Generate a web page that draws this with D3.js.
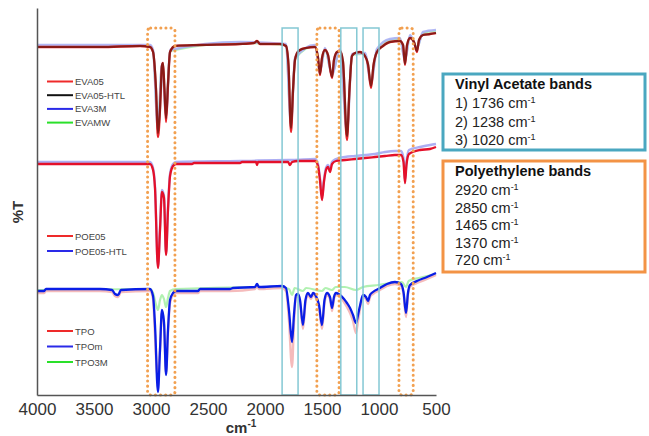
<!DOCTYPE html>
<html><head><meta charset="utf-8">
<script src="https://cdn.jsdelivr.net/npm/d3@7"></script>
<style>body{margin:0;background:#fff}svg{display:block}</style>
</head><body>
<script>
// ---------- DATA ----------
const xTickValues = [4000, 3500, 3000, 2500, 2000, 1500, 1000, 500];

// spectra: [wavenumber cm-1, offset %T]
const eva05 = [[4000,348],[3447,348],[3096,349],[3009,348],[2982,343],[2956,305],[2939,258],[2921,285],[2904,329],[2895,332],[2882,305],[2868,273],[2851,310],[2833,343],[2789,349],[2570,350],[2219,351],[2096,352],[2070,354],[2044,351],[1868,351],[1816,349],[1794,330],[1772,263],[1754,305],[1737,335],[1719,342],[1693,345],[1640,347],[1561,348],[1535,337],[1518,320],[1500,337],[1474,345],[1447,340],[1412,317],[1395,335],[1368,343],[1342,344],[1316,333],[1281,255],[1259,305],[1237,339],[1210,342],[1167,343],[1123,339],[1096,330],[1070,307],[1048,330],[1018,343],[965,349],[904,353],[816,354],[789,350],[772,330],[754,350],[728,357],[693,353],[667,343],[649,355],[614,360],[553,361],[500,362]];
const eva05htl = [[4000,348],[3447,348],[3096,349],[3009,348],[2982,343],[2956,307],[2939,262],[2921,287],[2904,329],[2895,332],[2882,307],[2868,277],[2851,311],[2833,343],[2789,349],[2570,350],[2219,351],[2096,352],[2070,354],[2044,351],[1868,351],[1816,349],[1794,331],[1772,267],[1754,306],[1737,335],[1719,342],[1693,345],[1640,347],[1561,348],[1535,338],[1518,321],[1500,337],[1474,345],[1447,340],[1412,318],[1395,335],[1368,343],[1342,344],[1316,334],[1281,259],[1259,306],[1237,339],[1210,342],[1167,343],[1123,339],[1096,331],[1070,309],[1048,330],[1018,343],[965,349],[904,353],[816,354],[789,350],[772,331],[754,350],[728,357],[693,353],[667,344],[649,355],[614,360],[553,361],[500,362]];
const eva3m = [[4000,350],[3009,350],[2982,345],[2939,265],[2904,331],[2868,280],[2833,345],[2219,353],[1816,351],[1772,270],[1737,337],[1561,350],[1518,323],[1474,347],[1412,320],[1342,346],[1281,262],[1237,341],[1123,342],[1070,312],[1018,346],[904,356],[816,357],[772,334],[728,360],[667,347],[614,363],[500,365]];
const evamw = [[4000,349],[3009,349],[2982,344],[2939,268],[2904,330],[2868,283],[2833,344],[2219,352],[1816,350],[1772,272],[1737,336],[1561,349],[1518,324],[1474,346],[1412,321],[1342,345],[1281,265],[1237,340],[1123,341],[1070,314],[1018,345],[904,355],[816,356],[772,336],[728,359],[667,348],[614,362],[500,364]];

const poe05 = [[4000,231],[3009,231],[2982,225],[2965,207],[2939,127],[2921,165],[2904,203],[2886,197],[2868,140],[2851,185],[2833,219],[2807,229],[2781,231],[2640,231],[2623,232],[2219,232],[2202,233],[2079,233],[2070,230],[2061,233],[1798,233],[1781,230],[1763,233],[1711,234],[1561,234],[1535,229],[1518,215],[1500,195],[1483,213],[1465,225],[1447,228],[1430,223],[1412,231],[1377,234],[1298,235],[1210,236],[1123,237],[1035,238],[947,239],[860,240],[807,240],[785,233],[772,212],[759,230],[737,241],[640,245],[553,246],[500,248]];
const poe05htl = [[4000,233],[3009,233],[2982,227],[2965,209],[2939,129],[2921,167],[2904,205],[2886,199],[2868,142],[2851,187],[2833,221],[2807,231],[2781,233],[2219,234],[1798,235],[1763,235],[1561,236],[1535,231],[1518,217],[1500,198],[1483,215],[1465,227],[1447,230],[1430,226],[1412,233],[1377,236],[1298,238],[1210,239],[1123,240],[1035,241],[947,243],[860,244],[807,244],[785,237],[772,215],[759,233],[737,245],[640,248],[553,250],[500,251]];

const tpo = [[4000,102],[3939,102],[3921,104],[3447,104],[3342,103],[3316,99],[3289,98],[3263,103],[3009,104],[2982,96],[2965,60],[2945,20],[2921,45],[2904,82],[2886,70],[2868,22],[2851,62],[2833,92],[2807,100],[2781,102],[2588,102],[2570,104],[2307,104],[2088,106],[2070,109],[2053,106],[1851,107],[1816,104],[1790,75],[1763,28],[1746,72],[1728,98],[1711,99],[1693,93],[1667,66],[1645,92],[1623,100],[1596,96],[1579,100],[1553,97],[1526,87],[1500,66],[1478,92],[1456,100],[1430,96],[1412,84],[1395,96],[1377,100],[1342,98],[1307,93],[1281,88],[1254,82],[1228,74],[1202,62],[1184,74],[1167,86],[1140,98],[1114,96],[1096,91],[1079,98],[1053,101],[991,105],[930,109],[860,111],[807,109],[785,101],[763,78],[746,100],[728,108],[667,112],[579,116],[500,120]];
const tpom = [[4000,104],[3939,104],[3921,106],[3447,106],[3342,105],[3316,101],[3289,100],[3263,105],[3009,106],[2982,99],[2965,70],[2939,3],[2921,45],[2904,85],[2886,73],[2868,20],[2851,65],[2833,95],[2807,102],[2781,104],[2588,104],[2570,106],[2307,106],[2281,107],[2088,108],[2070,111],[2053,108],[1851,109],[1816,107],[1790,85],[1763,53],[1746,80],[1728,100],[1711,101],[1693,95],[1667,70],[1645,95],[1623,102],[1596,98],[1579,102],[1553,99],[1526,90],[1500,70],[1478,95],[1456,102],[1430,98],[1412,87],[1395,98],[1377,102],[1342,100],[1307,96],[1281,92],[1254,87],[1228,80],[1202,72],[1184,80],[1167,89],[1140,100],[1114,98],[1096,94],[1079,100],[1053,103],[991,107],[930,111],[860,113],[807,111],[785,103],[763,82],[746,102],[728,110],[667,114],[579,118],[500,122]];
const tpo3m = [[4000,105],[3009,106],[2982,102],[2960,92],[2939,85],[2921,95],[2904,100],[2886,96],[2868,88],[2851,97],[2833,104],[2781,106],[1868,108],[1790,106],[1763,100],[1740,107],[1667,104],[1640,107],[1500,104],[1470,107],[1412,105],[1380,108],[1300,108],[1202,105],[1140,108],[1000,110],[900,112],[800,113],[763,108],[740,114],[650,117],[500,121]];

// band boxes [from, to] cm-1
const peBoxes = [[3030, 2790], [1545, 1350], [825, 700]];
const vaBoxes = [[1850, 1710], [1335, 1195], [1140, 1000]];

// legend groups
const evaLegend = [["EVA05", "#ee2a2a"], ["EVA05-HTL", "#111111"], ["EVA3M", "#2a2ae8"], ["EVAMW", "#2ae02a"]];
const poeLegend = [["POE05", "#ee2a2a"], ["POE05-HTL", "#2a2ae8"]];
const tpoLegend = [["TPO", "#ee2a2a"], ["TPOm", "#2a2ae8"], ["TPO3M", "#2ae02a"]];

const vaLines = ["1) 1736 cm", "2) 1238 cm", "3) 1020 cm"];
const peLines = ["2920 cm", "2850 cm", "1465 cm", "1370 cm", "720 cm"];

// ---------- DRAW ----------
const W = 649, H = 436;
const FONT = "Arial, 'Liberation Sans', sans-serif";
const svg = d3.select("body").append("svg").attr("width", W).attr("height", H);
const x = d3.scaleLinear().domain([4000, 500]).range([37, 436]);
const y = d3.scaleLinear().domain([0, 387]).range([395, 8]);
const line = d3.line().x(d => x(d[0])).y(d => y(d[1])).curve(d3.curveMonotoneX);

// spectra
function spec(data, color, w, op) {
  svg.append("path").datum(data).attr("d", line).attr("fill", "none")
    .attr("stroke", color).attr("stroke-width", w).attr("stroke-opacity", op)
    .attr("stroke-linejoin", "round");
}
spec(evamw, "#9ff09f", 2.2, 0.8);
spec(eva3m, "#aab0f4", 2.4, 0.9);
spec(eva05, "#e8242a", 2.3, 1);
spec(eva05htl, "#3a1408", 2.2, 0.55);

spec(poe05htl, "#a9aaf2", 2.4, 0.95);
spec(poe05, "#e4102a", 2.3, 1);

spec(tpo3m, "#a8f0a8", 2.2, 0.9);
spec(tpo, "#f4b4b4", 2.4, 0.9);
spec(tpom, "#0a1ee6", 2.3, 1);

// boxes
const boxTop = y(367), boxBottom = y(0);
svg.selectAll(".pe").data(peBoxes).join("rect")
  .attr("x", d => x(d[0])).attr("width", d => x(d[1]) - x(d[0]))
  .attr("y", boxTop).attr("height", boxBottom - boxTop).attr("rx", 3)
  .attr("fill", "none").attr("stroke", "#f2a050").attr("stroke-width", 3)
  .attr("stroke-dasharray", "0.1 5").attr("stroke-linecap", "round");
svg.selectAll(".va").data(vaBoxes).join("rect")
  .attr("x", d => x(d[0])).attr("width", d => x(d[1]) - x(d[0]))
  .attr("y", boxTop).attr("height", boxBottom - boxTop)
  .attr("fill", "none").attr("stroke", "#84c8d4").attr("stroke-width", 1.5);

// axes
const xAxis = svg.append("g").attr("transform", `translate(0,${y(0)})`)
  .call(d3.axisBottom(x).tickValues(xTickValues).tickSize(0).tickSizeOuter(0).tickPadding(8).tickFormat(d3.format("d")));
xAxis.select(".domain").attr("stroke", "#555").attr("stroke-width", 1.5);
xAxis.selectAll("text").attr("font-family", FONT).attr("font-size", 17).attr("fill", "#333");
const yAxis = svg.append("g").attr("transform", `translate(${x(4000)},0)`)
  .call(d3.axisLeft(y).tickValues([]).tickSizeOuter(0));
yAxis.select(".domain").attr("stroke", "#555").attr("stroke-width", 1.5);

svg.append("text").attr("transform", "translate(23,212) rotate(-90)").attr("text-anchor", "middle")
  .attr("font-family", FONT).attr("font-weight", "bold")
  .attr("font-size", 15).attr("fill", "#333").text("%T");
const cm = svg.append("text").attr("x", 241).attr("y", 433).attr("text-anchor", "middle")
  .attr("font-family", FONT).attr("font-weight", "bold")
  .attr("font-size", 15).attr("fill", "#333");
cm.append("tspan").text("cm");
cm.append("tspan").attr("dy", -6).attr("font-size", 10).text("-1");

// legends
function legend(items, y0, step) {
  items.forEach((it, i) => {
    const yy = y0 + i * step;
    svg.append("line").attr("x1", 47).attr("x2", 73).attr("y1", yy).attr("y2", yy)
      .attr("stroke", it[1]).attr("stroke-width", 2);
    svg.append("text").attr("x", 75).attr("y", yy + 3.5)
      .attr("font-family", FONT).attr("font-size", 9.5)
      .attr("fill", "#444").text(it[0]);
  });
}
legend(evaLegend, 81.5, 13.7);
legend(poeLegend, 236, 15);
legend(tpoLegend, 331, 15.5);

// annotation boxes
svg.append("rect").attr("x", 443).attr("y", 74).attr("width", 202).attr("height", 76)
  .attr("fill", "#fff").attr("stroke", "#4aa7c0").attr("stroke-width", 3);
svg.append("text").attr("x", 455).attr("y", 89).attr("font-family", FONT)
  .attr("font-weight", "bold").attr("font-size", 14.5).attr("fill", "#111").text("Vinyl Acetate bands");
vaLines.forEach((t, i) => {
  const tx = svg.append("text").attr("x", 455).attr("y", 108 + i * 18.5)
    .attr("font-family", FONT).attr("font-size", 14.5).attr("fill", "#222");
  tx.append("tspan").text(t);
  tx.append("tspan").attr("dy", -5).attr("font-size", 9).text("-1");
});
svg.append("rect").attr("x", 443).attr("y", 161).attr("width", 202).attr("height", 111)
  .attr("fill", "#fff").attr("stroke", "#f39345").attr("stroke-width", 3);
svg.append("text").attr("x", 455).attr("y", 176).attr("font-family", FONT)
  .attr("font-weight", "bold").attr("font-size", 14.5).attr("fill", "#111").text("Polyethylene bands");
peLines.forEach((t, i) => {
  const tx = svg.append("text").attr("x", 455).attr("y", 195 + i * 17.6)
    .attr("font-family", FONT).attr("font-size", 14.5).attr("fill", "#222");
  tx.append("tspan").text(t);
  tx.append("tspan").attr("dy", -5).attr("font-size", 9).text("-1");
});
</script>
</body></html>
